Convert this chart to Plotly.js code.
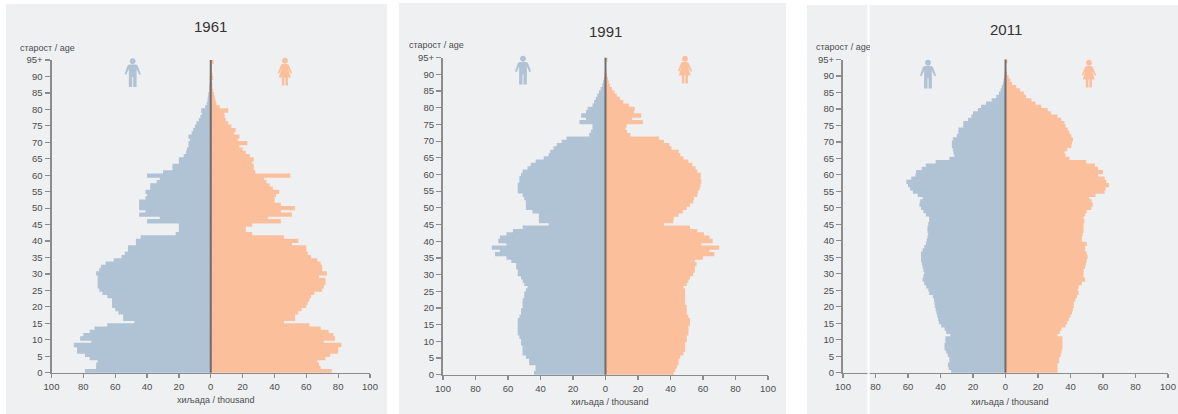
<!DOCTYPE html>
<html><head><meta charset="utf-8">
<script src="https://cdn.plot.ly/plotly-3.0.1.min.js"></script>
<style>html,body{margin:0;padding:0;background:#fff}#c{width:1178px;height:414px}</style>
</head><body><div id="c"></div>
<script>
const W = 1178, H = 414;
const ages = Array.from({length: 96}, (_, i) => i);
const ageTicks = [0,5,10,15,20,25,30,35,40,45,50,55,60,65,70,75,80,85,90,95];
const ageTickLabels = ['0','5','10','15','20','25','30','35','40','45','50','55','60','65','70','75','80','85','90','95+'];
const valueTicks = [-100,-80,-60,-40,-20,0,20,40,60,80,100];
const valueTickLabels = ['100','80','60','40','20','0','20','40','60','80','100'];
const years = ['1961','1991','2011'];

const male1961 = [79,72,72,71,76,79,84,84,86,75, 82,80,76,73,65,48,55,55,58,60,
  62,62,62,65,68,70,71,71,71,71, 72,70,69,66,61,56,54,52,52,47,
  47,44,22,20,20,20,40,32,45,41, 45,45,45,41,40,41,38,38,34,32,
  40,30,24,24,20,20,17,15.5,15,14, 14,13,14,12,11,10,9,7.5,6.5,5.5,
  6,3.5,2.5,2,1.8,1.5,1,1,.8,.6, .6,.4,.3,.3,.3,.5];
const female1961 = [76,69,68,67,72,75,80,80,82,71, 78,77,74,69,62,46,53,53,55,57,
  60,61,62,63,65,70,71,72,72,68, 73,70,70,69,67,63,61,60,60,51,
  55,46,26,22,22,26,44,36,51,44, 53,44,40,40,41,43,39,37,35,33.5,
  50,28,27,27,26,27,24.5,22,20,18, 23,17,18,14.6,15.7,13,11,9.4,8.8,8.5,
  11,5.6,3.5,3,2.5,2,1.5,1,1,.8, 1.5,1,.6,.6,.8,1.8];
const male1991 = [44,43,43,47,47,49,51,51,51,52, 52,53,54,54,54,54,54,53,52,52,
  51,51,51,50,50,49,48,50,51,52, 54,54,55,55,58,61,68,65,70,61,
  66,65,61,57,51,35,41,41,41,45, 49,49,49,50,51,54,54,54,53,53,
  52,51,48,46,43,38,35,34,32,30, 27,24,10,9,8,8,16,12,15,12,
  11,8,7,6,5,4,3,2,1.5,1, .6,.4,.3,.2,.2,.4];
const female1991 = [42,43,44,45,45,46,48,49,49,49, 50,50,51,51,51,52,52,51,50,50,
  50,49,49,49,49,49,48,50,51,52, 54,55,55,56,55,60,67,64,70,59,
  66,64,60.6,56.5,52,36,41.7,42,45,47.6, 50,52,54,54.4,56.5,57,58,58.5,59,58.5,
  58.7,56.5,55.4,53.4,51,48,46,45,40.6,39.4, 36,33,15.4,13.3,12.3,13,23,16.4,22,17.5,
  18,14.4,11,9,7,5.5,4,2.7,2,1.5, 1,.6,.4,.3,.3,1.2];
const male2011 = [33.5,35,35.5,34.5,34.5,35.5,36.5,37.5,37.5,37, 37,34,36.5,37.5,39.6,41,41.5,42,42.5,43,
  43.5,43.7,44,44.7,47,47.5,48.8,50,51,50.5, 50,50.5,51,51.5,52,52,52,51,50,49,
  48.5,48,47.6,48,48,47.5,47,47,49,50.5, 52,53,52.5,51,54,57,58.7,60,61,58,
  55.4,55,51.5,49,43,34.5,31.4,32,32.4,33, 33,32.4,30,29,29,26,26,23,21,20,
  17,15,12,8.5,5.7,4,3,2.3,1.6,1.2, .8,.5,.3,.2,.2,.3];
const female2011 = [32,32,32,33,33,34,34.5,35,35,35, 35,32,33.5,34.5,37,38,39,40,41,41.5,
  42,42,43,44,45,44.5,45,47,49,48, 48,48,49,49.5,50,50.5,50,49,49,50,
  47,47,47.5,48,48,48,48.5,48,49,50, 52.8,53.8,53,51.7,55.4,61,61.6,63.7,62,61,
  57,60,57,55,49.7,39.4,37,36.3,38,40.5, 41,41.5,40.5,39.4,38.4,37,36.3,34.3,32,28,
  26,22,18.5,16,12.7,11.3,9,6.6,4,3, 2,1,.6,.4,.3,1.2];

const maleSeries = [male1961, male1991, male2011];
const femaleSeries = [female1961, female1991, female2011];

const MALE = '#b0c3d5', FEMALE = '#fbc09b', BG = '#eff0f2', AXIS = '#8c8c8c', TXT = '#4d4d4d';
const FONT = 'Liberation Sans, Arial, sans-serif';

// panel geometry in page pixels
const panels = [
  {bg:[6,4,387,414],  x:[51.5,370], y:[60,372.7], title:[210.5,27], ageLbl:[47,48],  xLbl:[215,400], m:[132.7,58.5], f:[285,58]},
  {bg:[399,3,786,414],x:[443,768],  y:[57.7,374.7],title:[605,31], ageLbl:[436.5,45], xLbl:[609,402], m:[523,56],  f:[685,56]},
  {bg:[807,5,1178,414],x:[843,1168],y:[59.5,372.7],title:[1006,30],ageLbl:[843,47], xLbl:[1009,402],m:[928,60],  f:[1089,60]}
];
const px = x => x / W, py = y => 1 - y / H;

function iconPath(pts, ox, oy, head) {
  const toP = p => px(ox + p[0]) + ',' + py(oy + p[1]);
  let d = 'M' + pts.map(toP).join('L') + 'Z';
  const n = 12, hp = [];
  for (let i = 0; i < n; i++) {
    const a = 2 * Math.PI * i / n;
    hp.push([head[0] + head[2] * Math.cos(a), head[1] + head[2] * Math.sin(a)]);
  }
  return d + 'M' + hp.map(toP).join('L') + 'Z';
}
const manShape = [[4.5,6],[11.5,6],[13,7],[16.2,15.5],[14.6,16.2],[12,10.5],[12,18],[12,28.5],[8.6,28.5],[8.6,18.5],[7.6,18.5],[7.6,28.5],[4.2,28.5],[4.2,18],[4.2,10.5],[1.6,16.2],[0,15.5],[3,7]];
const womanShape = [[4.5,6],[9.5,6],[10.8,7],[14.4,15],[13,15.7],[10.2,10.5],[13,19.5],[10.2,19.5],[10.2,27.5],[7.6,27.5],[7.6,19.5],[6.6,19.5],[6.6,27.5],[4,27.5],[4,19.5],[1,19.5],[3.8,10.5],[1.4,15.7],[0,15],[3.2,7]];

const data = [], annotations = [], shapes = [];
const layout = {
  width: W, height: H, margin: {l:0,r:0,t:0,b:0},
  paper_bgcolor: '#ffffff', plot_bgcolor: 'rgba(0,0,0,0)',
  barmode: 'overlay', showlegend: false, font: {family: FONT, color: TXT, size: 9.5}
};

panels.forEach((p, i) => {
  const suf = i === 0 ? '' : String(i + 1);
  const xa = 'x' + suf, ya = 'y' + suf;
  const band = 95 / 96;
  const pos = ages.map(a => (a + 0.5) * band);
  data.push({type:'bar', orientation:'h', xaxis:xa, yaxis:ya, y:pos, x:maleSeries[i].map(v => -v), width:band * 1.32,
    marker:{color:MALE, line:{width:0}}, name:'male ' + years[i], hoverinfo:'skip'});
  data.push({type:'bar', orientation:'h', xaxis:xa, yaxis:ya, y:pos, x:femaleSeries[i], width:band * 1.32,
    marker:{color:FEMALE, line:{width:0}}, name:'female ' + years[i], hoverinfo:'skip'});

  layout['xaxis' + suf] = {
    domain:[px(p.x[0]), px(p.x[1])], range:[-100,100], anchor:ya, fixedrange:true,
    tickmode:'array', tickvals:valueTicks, ticktext:valueTickLabels, ticks:'outside', ticklen:4, tickwidth:1.2, tickcolor:AXIS,
    showline:true, linecolor:AXIS, linewidth:1.6, showgrid:false, zeroline:false,
    tickfont:{family:FONT, size:9.5, color:TXT}
  };
  layout['yaxis' + suf] = {
    domain:[py(p.y[1]), py(p.y[0])], range:[0,95], anchor:xa, fixedrange:true,
    tickmode:'array', tickvals:ageTicks, ticktext:ageTickLabels, ticks:'outside', ticklen:5, tickwidth:1.2, tickcolor:AXIS,
    showline:true, linecolor:AXIS, linewidth:2, showgrid:false, zeroline:false,
    tickfont:{family:FONT, size:9.5, color:TXT}
  };

  shapes.push({type:'rect', xref:'paper', yref:'paper', layer:'below', x0:px(p.bg[0]), x1:px(p.bg[2]), y0:py(p.bg[3]), y1:py(p.bg[1]), fillcolor:BG, line:{width:0}});
  shapes.push({type:'line', xref:xa, yref:'paper', layer:'above', x0:0, x1:0, y0:py(p.y[1]), y1:py(p.y[0]), line:{color:'rgba(70,70,70,0.7)', width:2}});
  shapes.push({type:'path', xref:'paper', yref:'paper', layer:'above', path:iconPath(manShape, p.m[0]-8.1, p.m[1], [8.1,2.7,3]), fillcolor:MALE, line:{width:0}});
  shapes.push({type:'path', xref:'paper', yref:'paper', layer:'above', path:iconPath(womanShape, p.f[0]-7.2, p.f[1], [7.2,2.7,3]), fillcolor:FEMALE, line:{width:0}});

  annotations.push({xref:'paper', yref:'paper', x:px(p.title[0]), y:py(p.title[1]), text:years[i], showarrow:false, xanchor:'center', yanchor:'middle', font:{family:FONT, size:15, color:'#333333'}});
  annotations.push({xref:'paper', yref:'paper', x:px(p.ageLbl[0]), y:py(p.ageLbl[1]), text:'старост / age', showarrow:false, xanchor:'center', yanchor:'middle', font:{family:FONT, size:9, color:TXT}});
  annotations.push({xref:'paper', yref:'paper', x:px(p.xLbl[0]), y:py(p.xLbl[1]), text:'хиљада / thousand', showarrow:false, xanchor:'center', yanchor:'middle', font:{family:FONT, size:9, color:TXT}});
});

// the pasted picture of the third panel cuts off the end of its age label
annotations.push({xref:'paper', yref:'paper', x:px(869.5), y:py(47), text:'\u00a0', showarrow:false, xanchor:'left', yanchor:'middle', width:5, height:12, bgcolor:BG, borderpad:0, borderwidth:0});
// seam between pasted pictures in the third panel
shapes.push({type:'line', xref:'paper', yref:'paper', layer:'above', x0:px(868.5), x1:px(868.5), y0:py(414), y1:py(5), line:{color:'#ffffff', width:2}});

layout.annotations = annotations;
layout.shapes = shapes;
Plotly.newPlot('c', data, layout, {displayModeBar:false, staticPlot:true});
</script>
</body></html>
